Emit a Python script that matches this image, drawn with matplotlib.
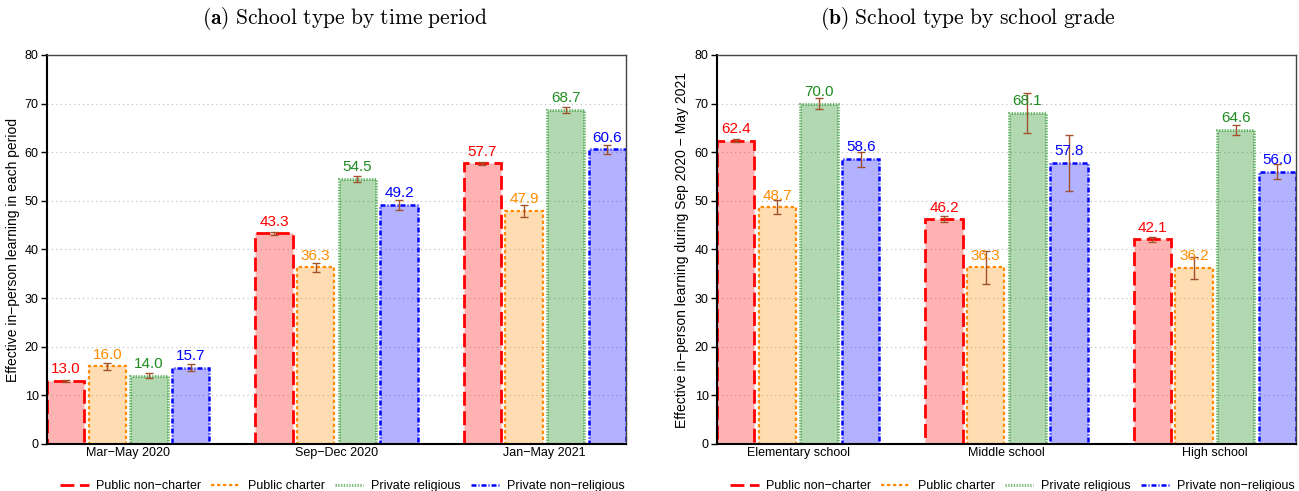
import matplotlib
matplotlib.use('Agg')
import matplotlib.pyplot as plt
from matplotlib.colors import to_rgba
from matplotlib.lines import Line2D
import numpy as np

plt.rcParams['font.family'] = ['Liberation Sans', 'DejaVu Sans']
plt.rcParams['mathtext.fontset'] = 'cm'

# categories
periods = ['Mar\u2212May 2020', 'Sep\u2212Dec 2020', 'Jan\u2212May 2021']
grades = ['Elementary school', 'Middle school', 'High school']
school_types = ['Public non\u2212charter', 'Public charter', 'Private religious', 'Private non\u2212religious']

# (a) by time period
a_public = [13.0, 43.3, 57.7]
a_charter = [16.0, 36.3, 47.9]
a_religious = [14.0, 54.5, 68.7]
a_nonrel = [15.7, 49.2, 60.6]
a_public_err = [0.15, 0.3, 0.3]
a_charter_err = [0.75, 1.0, 1.2]
a_religious_err = [0.5, 0.65, 0.6]
a_nonrel_err = [0.75, 1.0, 0.95]

# (b) by school grade
b_public = [62.4, 46.2, 42.1]
b_charter = [48.7, 36.3, 36.2]
b_religious = [70.0, 68.1, 64.6]
b_nonrel = [58.6, 57.8, 56.0]
b_public_err = [0.25, 0.6, 0.5]
b_charter_err = [1.45, 3.35, 2.3]
b_religious_err = [1.1, 4.1, 1.05]
b_nonrel_err = [1.55, 5.7, 1.55]

# styling per school type: edge color, text color, dash pattern, line width, edge alpha
edge_colors = ['#FF0000', '#FF8C00', '#008000', '#0000FF']
text_colors = ['#FF0000', '#FF8C00', '#1E8C1E', '#0000FF']
dashes = [(0, (5, 2)), (0, (1.5, 1.2)), (0, (0.45, 0.45)), (0, (2, 0.8, 0.4, 0.8))]
widths = [2.0, 1.6, 2.2, 1.8]
edge_alpha = [1.0, 1.0, 0.5, 1.0]

err_color = '#A0522D'
bar_w = 0.18
step = 0.2


def draw_panel(ax, labels, series, errs, ylabel, label_x):
    x = np.arange(len(labels))
    for i, (vals, err) in enumerate(zip(series, errs)):
        pos = x + (i - 1.5) * step
        ax.bar(pos, vals, width=bar_w,
               facecolor=to_rgba(edge_colors[i], 0.3),
               edgecolor=to_rgba(edge_colors[i], edge_alpha[i]),
               linestyle=dashes[i], linewidth=widths[i], zorder=2)
        ax.errorbar(pos, vals, yerr=err, fmt='none', ecolor=err_color,
                    elinewidth=1.0, capsize=3, capthick=1.0, zorder=3)
        for px, v in zip(pos, vals):
            ax.annotate(f'{v:.1f}', xy=(px, v), xytext=(0, 5.5),
                        textcoords='offset points', ha='center', va='baseline',
                        fontsize=11, color=text_colors[i], zorder=4)

    ax.set_xlim(-0.39, len(labels) - 1 + 0.39)
    ax.set_ylim(0, 80)
    ax.set_yticks(range(0, 81, 10))
    ax.set_xticks(x)
    ax.set_xticklabels(labels, fontsize=9)
    ax.tick_params(axis='x', length=0, pad=2)
    ax.tick_params(axis='y', length=4, width=1, labelsize=9, pad=2)
    ax.yaxis.grid(True, linestyle=(0, (1, 3)), color='#bbbbbb', linewidth=0.8, zorder=0)
    ax.set_axisbelow(True)
    for s in ['left', 'bottom']:
        ax.spines[s].set_linewidth(1.5)
        ax.spines[s].set_color('black')
    for s in ['top', 'right']:
        ax.spines[s].set_linewidth(1.0)
        ax.spines[s].set_color('#444444')
    ax.set_ylabel(ylabel, fontsize=10)
    ax.yaxis.set_label_coords(label_x, 0.5)

    handles = [Line2D([0], [0], color=to_rgba(edge_colors[i], edge_alpha[i]),
                      linestyle=dashes[i], linewidth=widths[i]) for i in range(4)]
    ax.legend(handles, school_types, loc='center', bbox_to_anchor=(0.51, -0.108),
              ncol=4, frameon=False, fontsize=9, handlelength=2.3,
              handletextpad=0.6, columnspacing=0.8)


fig = plt.figure(figsize=(12.99, 4.91), dpi=100)
ax1 = fig.add_axes([47 / 1299, 47 / 491, 579 / 1299, 389 / 491])
ax2 = fig.add_axes([717 / 1299, 47 / 491, 579 / 1299, 389 / 491])

draw_panel(ax1, periods, [a_public, a_charter, a_religious, a_nonrel],
           [a_public_err, a_charter_err, a_religious_err, a_nonrel_err],
           'Effective in\u2212person learning in each period', -0.046)
draw_panel(ax2, grades, [b_public, b_charter, b_religious, b_nonrel],
           [b_public_err, b_charter_err, b_religious_err, b_nonrel_err],
           'Effective in\u2212person learning during Sep 2020 \u2212 May 2021', -0.048)

fig.text(345 / 1299, 1 - 19 / 491, r'$\mathbf{(a)}\ \mathrm{School\ type\ by\ time\ period}$',
         ha='center', va='center', fontsize=15.5)
fig.text(968 / 1299, 1 - 19 / 491, r'$\mathbf{(b)}\ \mathrm{School\ type\ by\ school\ grade}$',
         ha='center', va='center', fontsize=15.5)

fig.savefig('out.png', dpi=100)
